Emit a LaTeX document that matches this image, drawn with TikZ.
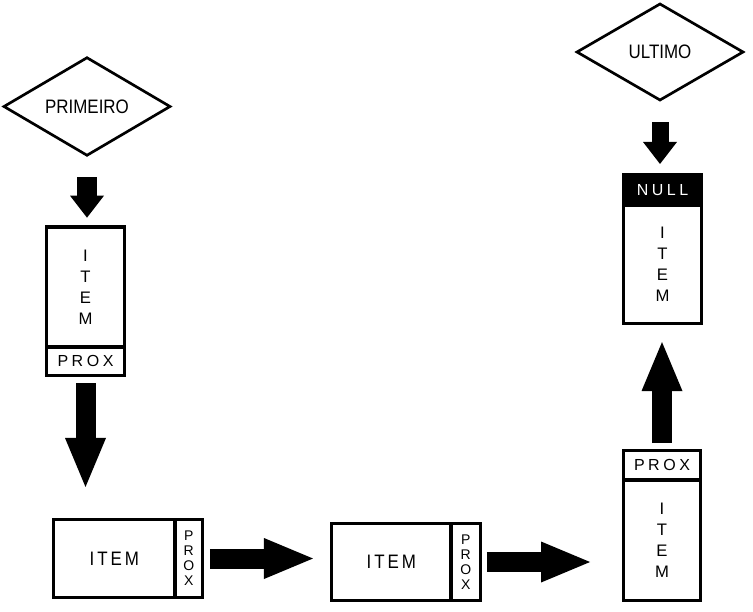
\documentclass[tikz,border=0pt]{standalone}
\usepackage{fontspec}
\setmainfont{Liberation Sans}
\newfontfamily\narrow[FakeStretch=0.87]{Liberation Sans}
\newfontfamily\spaced[FakeStretch=0.87, LetterSpace=15]{Liberation Sans}
\newfontfamily\wide[LetterSpace=22]{Liberation Sans}
\usetikzlibrary{positioning,arrows.meta,shapes.geometric}

\begin{document}
\begin{tikzpicture}[x=0.75pt, y=-0.75pt,
  ptr/.style={draw, diamond, line width=2pt, outer sep=0pt, inner sep=0pt, minimum width=124.5pt, font=\fontsize{14.6}{16}\narrow},
  cell/.style={draw, rectangle, line width=2.6pt, outer sep=0pt, inner sep=0pt, align=center, font=\fontsize{14.6}{16}\spaced},
  vcell/.style={cell, font=\fontsize{12.5}{15.75}\selectfont},
  pcell/.style={cell, font=\fontsize{12}{14}\wide},
  vpcell/.style={cell, font=\fontsize{10.5}{11.25}\selectfont},
  nullcell/.style={pcell, fill=black, text=white},
  blk/.style={line width=15pt, -{Triangle[length=36.75pt, width=30.75pt, line width=0pt 0]}},
  blks/.style={line width=15pt, -{Triangle[length=16.5pt, width=25.5pt, line width=0pt 0]}}
]
\useasboundingbox (0,0) rectangle (753,611);

\node[ptr, minimum height=69.75pt] (prim) at (87,106.5) {PRIMEIRO};
\node[ptr, minimum height=72pt] (ult) at (660,52) {ULTIMO};

% primeiro elemento
\node[vcell, minimum width=58.5pt, minimum height=90pt] (n1i) at (85.5,287) {I\\T\\E\\M};
\node[pcell, below=0pt of n1i, minimum width=58.5pt, minimum height=21.5pt] (n1p) {PROX};

% elementos do meio
\node[cell, minimum width=91.1pt, minimum height=58.5pt] (n2i) at (114.25,558.5) {ITEM};
\node[vpcell, right=0pt of n2i, minimum width=20.6pt, minimum height=58.5pt] (n2p) {P\\R\\O\\X};
\node[cell, minimum width=89.6pt, minimum height=57.75pt] (n3i) at (391.25,562) {ITEM};
\node[vpcell, right=0pt of n3i, minimum width=22.1pt, minimum height=57.75pt] (n3p) {P\\R\\O\\X};
\node[pcell, minimum width=57.75pt, minimum height=22.1pt] (n4p) at (662,465.25) {PROX};
\node[vcell, below=0pt of n4p, minimum width=57.75pt, minimum height=90.4pt] (n4i) {I\\T\\E\\M};

% ultimo elemento
\node[nullcell, minimum width=58.5pt, minimum height=22.9pt] (n5n) at (662.5,189.75) {NULL};
\node[vcell, below=0pt of n5n, minimum width=58.5pt, minimum height=88.9pt] (n5i) {I\\T\\E\\M};

\draw[blks, shorten <=16.5pt, shorten >=7pt] (prim.south) -- (prim.south |- n1i.north);
\draw[blk, shorten <=5.6pt, shorten >=24.4pt] (n1p.south) -- (n1p.south |- n2i.north);
\draw[blk, shorten <=5.6pt, shorten >=13.9pt] (n2p.east) -- (n2p.east -| n3i.west);
\draw[blk, shorten <=4.9pt, shorten >=25.1pt] (n3p.east) -- (n3p.east -| n4i.west);
\draw[blk, shorten <=5.6pt, shorten >=13.9pt] (n4p.north) -- (n4p.north |- n5i.south);
\draw[blks, line width=12.75pt, shorten <=16.5pt, shorten >=7.9pt] (ult.south) -- (ult.south |- n5n.north);
\end{tikzpicture}
\end{document}
